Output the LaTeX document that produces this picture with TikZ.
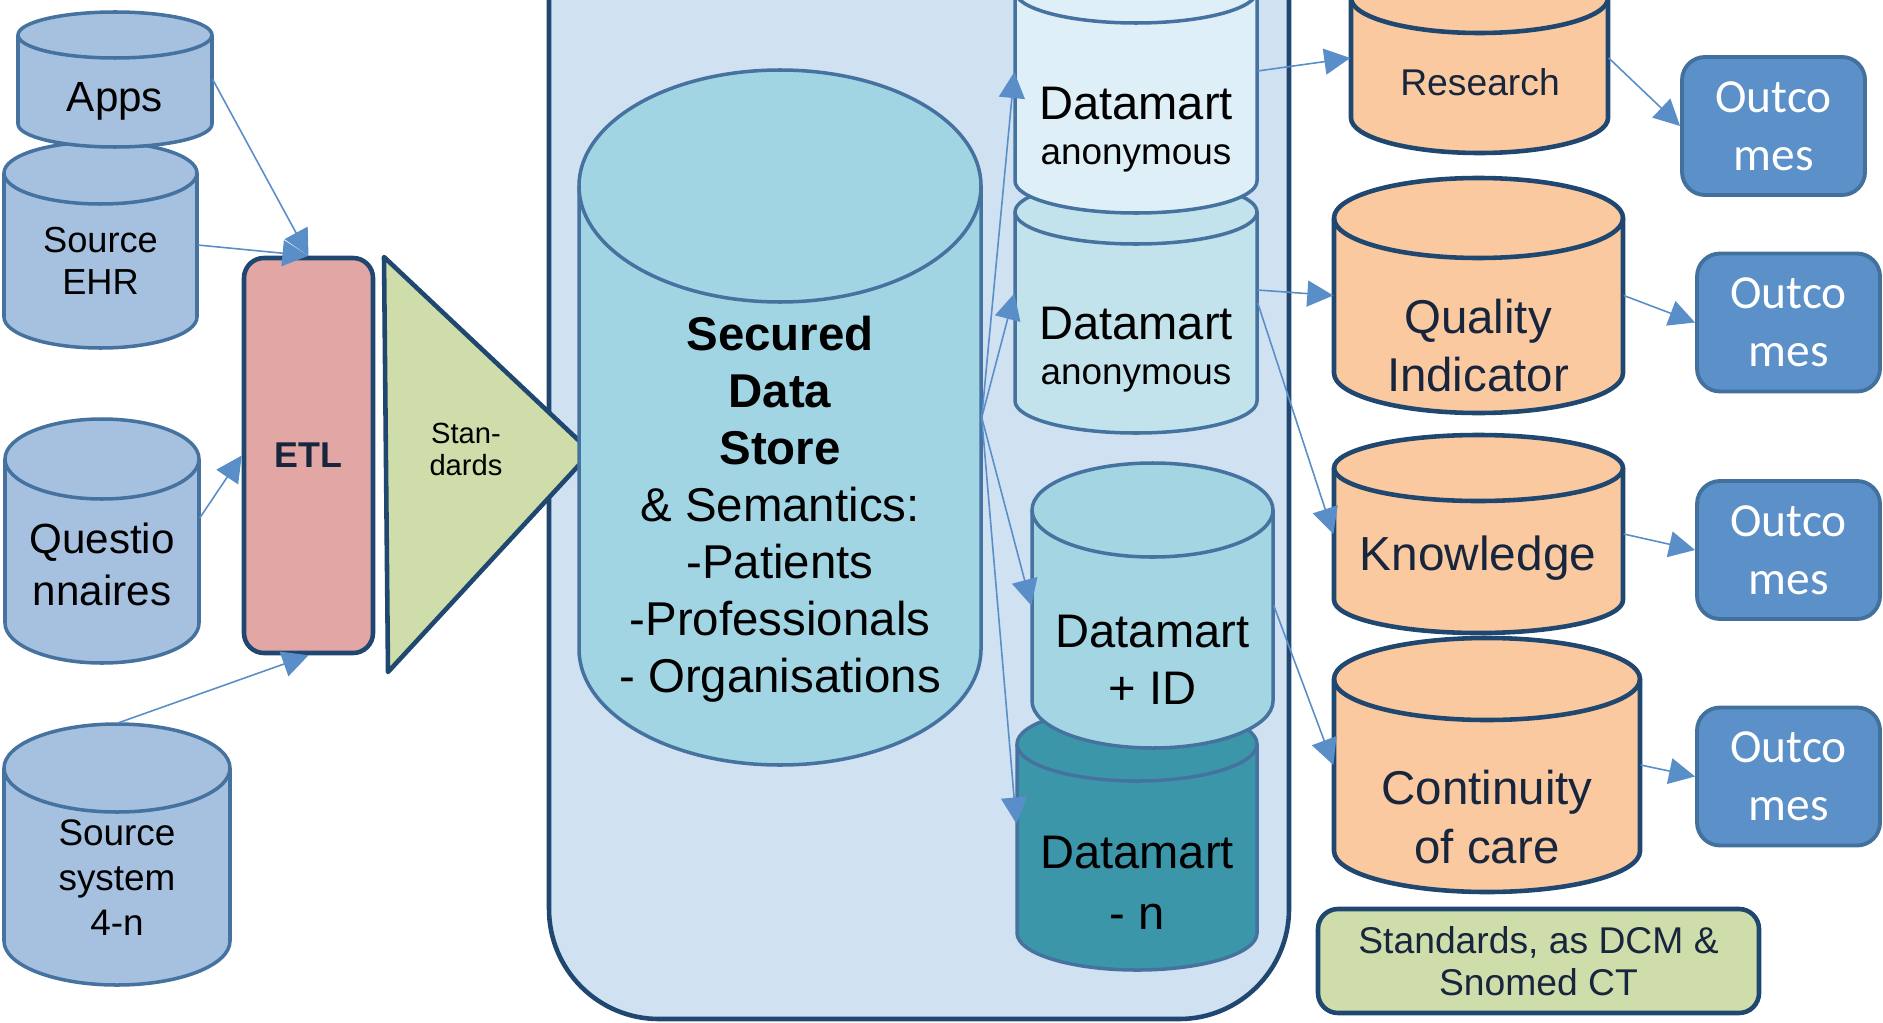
\documentclass[tikz,border=0pt]{standalone}
\usepackage{fontspec}
\setmainfont{Liberation Sans}
\newfontfamily\calibri{Carlito}
\usetikzlibrary{arrows.meta}

\definecolor{srcfill}{HTML}{A6C0DF}
\definecolor{srcline}{HTML}{4672A0}
\definecolor{boxfill}{HTML}{D0E1F2}
\definecolor{navyline}{HTML}{1F4770}
\definecolor{secfill}{HTML}{A2D5E3}
\definecolor{dmonefill}{HTML}{DFEFF7}
\definecolor{dmtwofill}{HTML}{C3E3EC}
\definecolor{dmidfill}{HTML}{A3D5E3}
\definecolor{dmnfill}{HTML}{3C96AA}
\definecolor{usefill}{HTML}{FAC99F}
\definecolor{outfill}{HTML}{5C90C8}
\definecolor{outline}{HTML}{41719C}
\definecolor{etlfill}{HTML}{E2A6A5}
\definecolor{stdfill}{HTML}{CEDDAA}
\definecolor{navytext}{HTML}{17263D}
\definecolor{arrowblue}{HTML}{5A8EC8}

\newcommand{\fsz}[2]{\fontsize{#1}{#2}\selectfont}
% #1 name, #2/#3 left/right x, #4/#5 top/bottom y, #6 end radius, #7 style
\newcommand{\dbcan}[7]{%
  \path[#7] (#2,{#5+#6}) arc[start angle=180, end angle=360, x radius={(#3-#2)/2}, y radius=#6]
    -- (#3,{#4-#6}) arc[start angle=0, end angle=180, x radius={(#3-#2)/2}, y radius=#6] -- cycle;
  \path[#7, fill=none] (#2,{#4-#6}) arc[start angle=180, end angle=360, x radius={(#3-#2)/2}, y radius=#6];
  \node[inner sep=0pt, minimum width={(#3-#2)*1cm}, minimum height={((#4)-(#5))*1cm}] (#1) at ({(#2+#3)/2},{((#4)+(#5))/2}) {};
}

\tikzset{
  container/.style={fill=boxfill, draw=navyline, line width=1.3pt, rounded corners=1.1cm},
  srcdb/.style={fill=srcfill, draw=srcline, line width=1pt},
  secdb/.style={fill=secfill, draw=srcline, line width=1pt},
  martdb/.style={draw=srcline, line width=1pt},
  usedb/.style={fill=usefill, draw=navyline, line width=1.3pt},
  lbl/.style={align=center, inner sep=0pt},
  uselbl/.style={lbl, text=navytext},
  etlbox/.style={rectangle, rounded corners=0.2cm, fill=etlfill, draw=navyline, line width=1.3pt,
    minimum width=1.29cm, minimum height=3.95cm, inner sep=0pt, text=navytext, font=\bfseries\fsz{10.2}{12}},
  tristyle/.style={fill=stdfill, draw=navyline, line width=1.3pt, line join=round},
  outbox/.style={rectangle, rounded corners=0.23cm, fill=outfill, draw=outline, line width=1.1pt,
    minimum width=1.83cm, minimum height=1.38cm, inner sep=0pt, align=center, text=white,
    font=\calibri\fsz{13.5}{16.5}},
  stdbox/.style={rectangle, rounded corners=0.2cm, fill=stdfill, draw=navyline, line width=1.3pt,
    minimum width=4.41cm, minimum height=1.04cm, inner sep=0pt, align=center, text=navytext,
    font=\fsz{10.6}{12}},
  flow/.style={-{Triangle[length=7.4pt,width=7.4pt]}, draw=arrowblue, fill=arrowblue, line width=0.45pt}
}

\begin{document}
\begin{tikzpicture}
  \useasboundingbox (0,0) rectangle (18.83,-10.22);
  \clip (0,0) rectangle (18.83,-10.22);

  % Data warehouse frame
  \draw[container] (5.49,2) rectangle (12.89,-10.19);

  % Sources
  \dbcan{ehr}{0.04}{1.97}{-1.42}{-3.48}{0.31}{srcdb}
  \dbcan{apps}{0.18}{2.12}{-0.12}{-1.47}{0.23}{srcdb}
  \dbcan{quest}{0.05}{1.99}{-4.19}{-6.63}{0.40}{srcdb}
  \dbcan{sys}{0.04}{2.30}{-7.24}{-9.85}{0.44}{srcdb}
  \node[lbl, font=\fsz{12}{14}] (apps-txt) at (1.15,-1.01) {Apps};
  \node[lbl, font=\fsz{10.3}{12}] (ehr-txt) at (1.005,-2.61) {Source\\EHR};
  \node[lbl, font=\fsz{12}{14.8}] (quest-txt) at (1.02,-5.64) {Questio\\nnaires};
  \node[lbl, font=\fsz{10.5}{12.8}] (sys-txt) at (1.17,-8.78) {Source\\system\\4-n};

  % ETL and standards
  \node[etlbox] (etl) at (3.085,-4.555) {ETL};
  \draw[tristyle] (3.84,-2.57) -- (5.91,-4.52) -- (3.88,-6.72) -- cycle;
  \node[lbl, font=\fsz{8.3}{9.1}] (stan-txt) at (4.66,-4.49) {Stan-\\dards};

  % Secured data store
  \dbcan{secured}{5.79}{9.81}{-0.70}{-7.65}{1.16}{secdb}
  \node[lbl, font=\fsz{13.5}{16.2}] (secured-txt) at (7.80,-5.095)
    {\textbf{Secured}\\\textbf{Data}\\\textbf{Store}\\\& Semantics:\\-Patients\\-Professionals\\- Organisations};

  % Datamarts
  \dbcan{dm2}{10.15}{12.57}{-1.80}{-4.33}{0.32}{martdb, fill=dmtwofill}
  \dbcan{dm1}{10.15}{12.57}{0.41}{-2.13}{0.32}{martdb, fill=dmonefill}
  \dbcan{dmn}{10.17}{12.57}{-7.07}{-9.70}{0.37}{martdb, fill=dmnfill}
  \dbcan{dmid}{10.32}{12.73}{-4.63}{-7.48}{0.47}{martdb, fill=dmidfill}
  \node[lbl, font=\fsz{13.4}{12.8}] (dm1-txt) at (11.36,-1.295) {Datamart\\{\fsz{10.5}{12}anonymous}};
  \node[lbl, font=\fsz{13.4}{12.8}] (dm2-txt) at (11.36,-3.495) {Datamart\\{\fsz{10.5}{12}anonymous}};
  \node[lbl, font=\fsz{13.4}{16.2}] (dmid-txt) at (11.525,-6.595) {Datamart\\+ ID};
  \node[lbl, font=\fsz{13.4}{17.4}] (dmn-txt) at (11.37,-8.825) {Datamart\\- n};

  % Uses
  \dbcan{research}{13.51}{16.08}{0.37}{-1.53}{0.35}{usedb}
  \dbcan{quality}{13.34}{16.23}{-1.78}{-4.13}{0.40}{usedb}
  \dbcan{knowledge}{13.34}{16.23}{-4.35}{-6.33}{0.33}{usedb}
  \dbcan{continuity}{13.34}{16.40}{-6.38}{-8.92}{0.41}{usedb}
  \node[uselbl, font=\fsz{10.6}{12}] (research-txt) at (14.80,-0.82) {Research};
  \node[uselbl, font=\fsz{13.5}{16.5}] (quality-txt) at (14.78,-3.46) {Quality\\Indicator};
  \node[uselbl, font=\fsz{13.6}{16}] (knowledge-txt) at (14.78,-5.58) {Knowledge};
  \node[uselbl, font=\fsz{13.5}{16.8}] (continuity-txt) at (14.87,-8.175) {Continuity\\of care};

  % Outcomes
  \foreach \n/\x/\y in {o1/17.735/-1.26, o2/17.885/-3.225, o3/17.885/-5.50, o4/17.885/-7.765}
    \node[outbox] (\n) at (\x,\y) {Outco\\mes};

  \node[stdbox] (stdnote) at (15.385,-9.61) {Standards, as DCM \&\\Snomed CT};

  % Flows
  \draw[flow] (apps.east) -- (etl.north);
  \draw[flow] (ehr.east) -- (etl.north);
  \draw[flow] ([yshift=0.23cm]quest.east) -- (etl.west);
  \draw[flow] (sys.north) -- (etl.south);

  \draw[flow] (secured.east) -- ([yshift=0.14cm]dm1.west);
  \draw[flow] (secured.east) -- ([yshift=0.13cm]dm2.west);
  \draw[flow] (secured.east) -- (dmid.west);
  \draw[flow] (secured.east) -- ([yshift=0.15cm]dmn.west);

  \draw[flow] ([yshift=0.15cm]dm1.east) -- (research.west);
  \draw[flow] ([yshift=0.165cm]dm2.east) -- (quality.west);
  \draw[flow] ([yshift=0.035cm]dm2.east) -- (knowledge.west);
  \draw[flow] (dmid.east) -- (continuity.west);

  \foreach \a/\b in {research/o1, quality/o2, knowledge/o3, continuity/o4}
    \draw[flow] (\a.east) -- (\b.west);

\end{tikzpicture}
\end{document}
